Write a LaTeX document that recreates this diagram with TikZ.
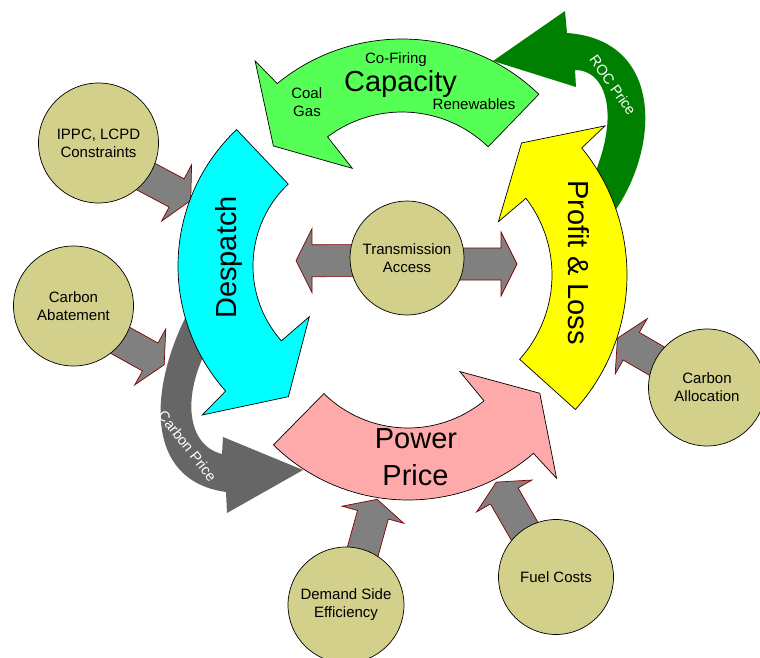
\documentclass[tikz,border=0pt]{standalone}
\usepackage{fontspec}
\setmainfont{Liberation Sans}
\definecolor{capgreen}{RGB}{85,255,85}
\definecolor{rocgreen}{RGB}{0,128,0}
\definecolor{despcyan}{RGB}{0,255,255}
\definecolor{plyellow}{RGB}{255,255,0}
\definecolor{pppink}{RGB}{255,170,170}
\definecolor{cpgray}{RGB}{102,102,102}
\definecolor{bagray}{RGB}{128,128,128}
\definecolor{bared}{RGB}{128,0,0}
\definecolor{bubblefill}{RGB}{210,208,138}
\tikzset{
  curvedarrow/.style={draw=black, line width=0.7pt},
  blockarrowstyle/.style={fill=bagray, draw=bared, line width=0.7pt},
  bubble/.style={circle, draw=black, line width=0.7pt, fill=bubblefill, inner sep=0pt,
    align=center, font=\fontsize{15}{18}\selectfont},
  biglabel/.style={font=\fontsize{29}{35}\selectfont, anchor=base, inner sep=0pt},
  smalllabel/.style={font=\fontsize{15}{18}\selectfont, anchor=base, inner sep=0pt},
  bandlabel/.style={font=\fontsize{14.5}{17}\selectfont, text=white, inner sep=0pt},
}
\newcommand\blockarrow[2]{%
  \path (#1); \pgfgetlastxy{\baxa}{\baya}%
  \path (#2); \pgfgetlastxy{\baxb}{\bayb}%
  \pgfmathsetmacro\baang{atan2((\bayb)-(\baya),(\baxb)-(\baxa))}%
  \pgfmathsetmacro\balen{veclen((\baxb)-(\baxa),(\bayb)-(\baya))}%
  \draw[blockarrowstyle, shift={(\baxa,\baya)}, rotate=\baang]
    (0,16) -- ({\balen-16},16) -- ({\balen-16},32) -- (\balen,0)
    -- ({\balen-16},-32) -- ({\balen-16},-16) -- (0,-16) -- cycle;
}
\begin{document}
\begin{tikzpicture}[x=1pt,y=-1pt]
\useasboundingbox (0,0) rectangle (760,658);

% connector end points
\coordinate (ippcT) at (110.5,157.8);  \coordinate (ippcH) at (190.8,200.5);
\coordinate (abateT) at (84.7,320.6);  \coordinate (abateH) at (164.3,364.8);
\coordinate (allocT) at (696.1,383.9); \coordinate (allocH) at (617.4,338.2);
\coordinate (demandT) at (352.9,586.9); \coordinate (demandH) at (377.2,499.3);
\coordinate (fuelT) at (541.7,560.9);  \coordinate (fuelH) at (496.2,482.0);
\coordinate (transLT) at (420,260.5);  \coordinate (transLH) at (296,260.7);
\coordinate (transRT) at (395,264);    \coordinate (transRH) at (517,264);

% block arrows
\blockarrow{ippcT}{ippcH}
\blockarrow{abateT}{abateH}
\blockarrow{allocT}{allocH}
\blockarrow{demandT}{demandH}
\blockarrow{fuelT}{fuelH}
\blockarrow{transLT}{transLH}
\blockarrow{transRT}{transRH}

% ROC price arrow
\fill[rocgreen] (612,215) .. controls (660,150) and (665,40) .. (567,33)
  -- (565,11) -- (493,61) -- (576,87) -- (575,70)
  .. controls (605,70) and (618,110) .. (598,165) -- (590,190) -- cycle;

% Carbon price arrow
\fill[cpgray] (192,305) .. controls (150,380) and (140,480) .. (226,492)
  -- (227,513) -- (303,470) -- (223,437) -- (222,454)
  .. controls (185,445) and (180,390) .. (215,335) -- cycle;

% Capacity
\begin{scope}[shift={(402,236)}]
\draw[curvedarrow, fill=capgreen] (-46:197) arc[start angle=-46, end angle=-129.3, radius=197]
  -- (-130:228.5) -- (-145:157) -- (-126.3:84) -- (-126.9:124)
  arc[start angle=-126.9, end angle=-46, radius=124] -- cycle;
\end{scope}
% Despatch
\begin{scope}[shift={(366,266)}]
\draw[curvedarrow, fill=despcyan] (-133.5:188) arc[start angle=-133.5, end angle=-221.7, radius=188]
  -- (-222.3:221.4) -- (-239.3:152) -- (-221.8:76) -- (-221.5:113)
  arc[start angle=-221.5, end angle=-133.5, radius=113] -- cycle;
\end{scope}
% Power Price
\begin{scope}[shift={(408,308)}]
\draw[curvedarrow, fill=pppink] (134.5:192) arc[start angle=134.5, end angle=49.2, radius=192]
  -- (48.9:226) -- (32.9:157) -- (50.8:82) -- (50.7:120)
  arc[start angle=50.7, end angle=134.5, radius=120] -- cycle;
\end{scope}
% Profit & Loss
\begin{scope}[shift={(426,275)}]
\draw[curvedarrow, fill=plyellow] (42:201) arc[start angle=42, end angle=-39.2, radius=201]
  -- (-39.8:233) -- (-54.1:163) -- (-36.4:90) -- (-37.5:126)
  arc[start angle=-37.5, end angle=42, radius=126] -- cycle;
\end{scope}

% labels on curved arrows
\node[biglabel] (caplbl) at (400.5,92) {Capacity};
\node[smalllabel] (cofire) at (396,63.5) {Co-Firing};
\node[smalllabel] (coal) at (306.7,99) {Coal};
\node[smalllabel] (gas) at (307,116.7) {Gas};
\node[smalllabel] (renew) at (474,110) {Renewables};
\node[biglabel, rotate=90] (desplbl) at (236.5,257.5) {Despatch};
\node[biglabel, rotate=-90] (pllbl) at (568.3,262.5) {Profit \& Loss};
\node[biglabel] (powerlbl) at (416,448.3) {Power};
\node[biglabel] (pricelbl) at (415.5,485.7) {Price};
\node[bandlabel, rotate=-52] (cplbl) at (187.5,446) {Carbon Price};
\node[bandlabel, rotate=-55] (roclbl) at (613,85) {ROC Price};

% circles
\node[bubble, minimum size=120pt] (ippc) at (98.5,143) {IPPC, LCPD\\Constraints};
\node[bubble, minimum size=120pt] (abate) at (73.5,306) {Carbon\\Abatement};
\node[bubble, minimum size=114pt] (trans) at (407,258) {Transmission\\Access};
\node[bubble, minimum size=117pt] (alloc) at (707,387.5) {Carbon\\Allocation};
\node[bubble, minimum size=116pt] (demand) at (346,605) {Demand Side\\Efficiency};
\node[bubble, minimum size=115pt] (fuel) at (556,577) {Fuel Costs};
\end{tikzpicture}
\end{document}
